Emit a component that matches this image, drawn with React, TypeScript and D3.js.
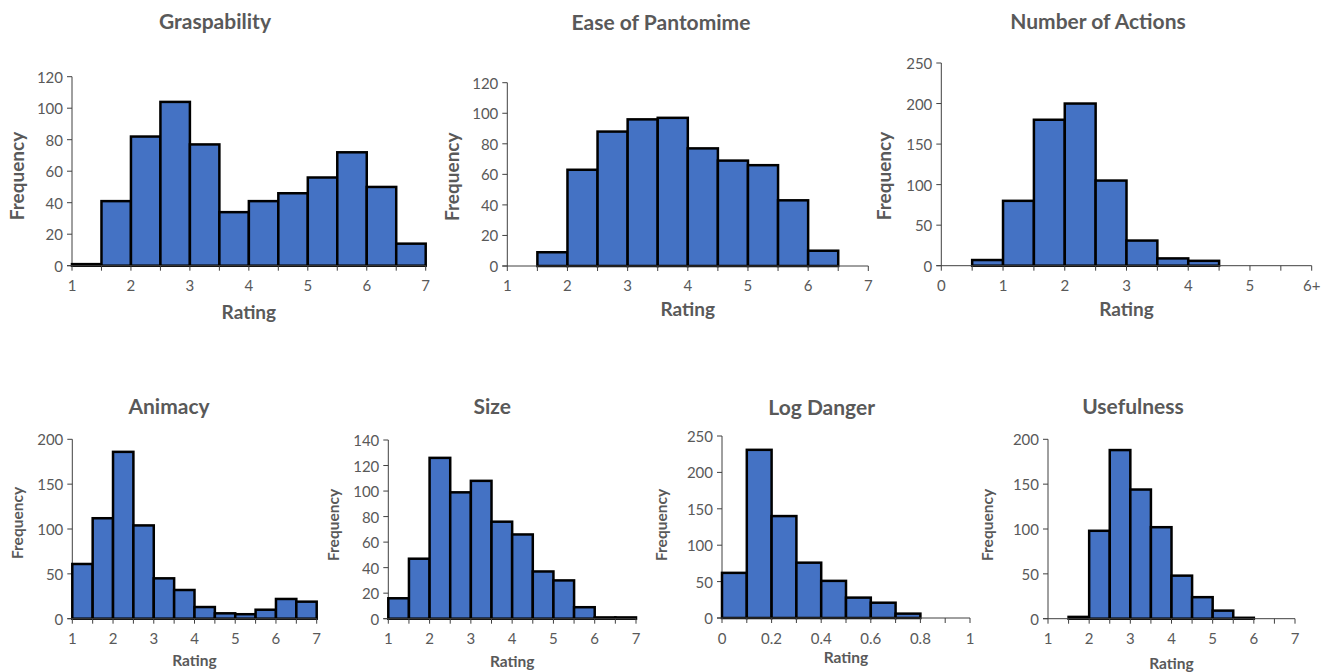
import * as d3 from "d3";
import React, { useEffect, useRef } from "react";

// bin counts (one value per bin, left to right)
const graspCounts = [1, 41, 82, 104, 77, 34, 41, 46, 56, 72, 50, 14];
const pantoCounts = [0, 9, 63, 88, 96, 97, 77, 69, 66, 43, 10, 0];
const actionCounts = [0, 7, 80, 180, 200, 105, 31, 9, 6, 0, 0, 0];
const animacyCounts = [61, 112, 186, 104, 45, 32, 13, 6, 5, 10, 22, 19];
const sizeCounts = [16, 47, 126, 99, 108, 76, 66, 37, 30, 9, 1, 1];
const dangerCounts = [62, 231, 140, 76, 51, 28, 21, 6, 0, 0];
const usefulCounts = [0, 2, 98, 188, 144, 102, 48, 24, 9, 1, 0, 0];

const ratingLabels = ["1", "2", "3", "4", "5", "6", "7"];
const actionLabels = ["0", "1", "2", "3", "4", "5", "6+"];
const dangerLabels = ["0", "0.2", "0.4", "0.6", "0.8", "1"];

const titles = ["Graspability", "Ease of Pantomime", "Number of Actions", "Animacy", "Size", "Log Danger", "Usefulness"];

const FONT = "Lato, 'Open Sans', sans-serif";
const GREY = "#595959";

// layout of every panel on the page
const panels = [
  { counts: graspCounts, labels: ratingLabels, lo: 1, hi: 7, bin: 0.5, step: 1, yMax: 120, yStep: 20,
    x0: 72, x1: 425.7, y0: 76.7, y1: 265.7, tx: 215, ty: 20, tickY: 285, ratY: 311, fx: 16, fy: 176, big: true },
  { counts: pantoCounts, labels: ratingLabels, lo: 1, hi: 7, bin: 0.5, step: 1, yMax: 120, yStep: 20,
    x0: 507.3, x1: 868.3, y0: 82.7, y1: 266, tx: 661, ty: 21, tickY: 285, ratY: 308.5, fx: 451.7, fy: 176.7, big: true },
  { counts: actionCounts, labels: actionLabels, lo: 0, hi: 6, bin: 0.5, step: 1, yMax: 250, yStep: 50,
    x0: 941.3, x1: 1311.7, y0: 63, y1: 265.7, tx: 1098, ty: 20, tickY: 285, ratY: 308.5, fx: 883.3, fy: 176, big: true },
  { counts: animacyCounts, labels: ratingLabels, lo: 1, hi: 7, bin: 0.5, step: 1, yMax: 200, yStep: 50,
    x0: 72.3, x1: 316.7, y0: 439.3, y1: 618.7, tx: 169, ty: 405.7, tickY: 638.3, ratY: 660, fx: 17, fy: 523, big: false },
  { counts: sizeCounts, labels: ratingLabels, lo: 1, hi: 7, bin: 0.5, step: 1, yMax: 140, yStep: 20,
    x0: 388.3, x1: 636, y0: 440, y1: 618.7, tx: 492.3, ty: 405, tickY: 638.3, ratY: 660.7, fx: 332.7, fy: 525, big: false },
  { counts: dangerCounts, labels: dangerLabels, lo: 0, hi: 1, bin: 0.1, step: 0.2, yMax: 250, yStep: 50,
    x0: 722, x1: 970, y0: 436, y1: 618, tx: 821.7, ty: 406.7, tickY: 638.3, ratY: 657, fx: 660.7, fy: 525, big: false },
  { counts: usefulCounts, labels: ratingLabels, lo: 1, hi: 7, bin: 0.5, step: 1, yMax: 200, yStep: 50,
    x0: 1048, x1: 1295, y0: 439.3, y1: 618.7, tx: 1133, ty: 405.7, tickY: 638.3, ratY: 662.7, fx: 986.7, fy: 525, big: false },
];

const App = () => {
  const svgRef = useRef(null);
  const w = 1334;
  const h = 672;

  useEffect(() => {
    const svg = d3.select(svgRef.current);
    svg.selectAll("*").remove();

    panels.forEach((p, k) => {
      const g = svg.append("g");
      const xScale = d3.scaleLinear().domain([p.lo, p.hi]).range([p.x0, p.x1]);
      const yScale = d3.scaleLinear().domain([0, p.yMax]).range([p.y1, p.y0]);

      // title
      g.append("text")
        .attr("x", p.tx).attr("y", p.ty)
        .attr("text-anchor", "middle").attr("dominant-baseline", "central")
        .attr("font-family", FONT).attr("font-weight", "bold")
        .attr("font-size", 21).attr("fill", GREY)
        .text(titles[k]);

      // y axis line + ticks + labels
      g.append("line")
        .attr("x1", p.x0).attr("x2", p.x0).attr("y1", p.y0).attr("y2", p.y1)
        .attr("stroke", "#404040").attr("stroke-width", 1);
      const yTicks = d3.range(0, p.yMax + p.yStep / 2, p.yStep);
      yTicks.forEach((t) => {
        g.append("line")
          .attr("x1", p.x0 - 5).attr("x2", p.x0).attr("y1", yScale(t)).attr("y2", yScale(t))
          .attr("stroke", "#404040");
        g.append("text")
          .attr("x", p.x0 - 9).attr("y", yScale(t))
          .attr("text-anchor", "end").attr("dominant-baseline", "central")
          .attr("font-family", FONT).attr("font-size", 15).attr("fill", GREY)
          .text(t);
      });

      // bars
      const nb = p.counts.length;
      g.selectAll("rect")
        .data(p.counts.map((c, i) => ({ c, i })).filter((d) => d.c > 0))
        .enter()
        .append("rect")
        .attr("x", (d) => xScale(p.lo + d.i * p.bin))
        .attr("y", (d) => yScale(d.c))
        .attr("width", (d) => xScale(p.lo + (d.i + 1) * p.bin) - xScale(p.lo + d.i * p.bin))
        .attr("height", (d) => p.y1 - yScale(d.c))
        .attr("fill", "#4472C4")
        .attr("stroke", "#000")
        .attr("stroke-width", 2.5);

      // x axis line + ticks at each bin edge
      g.append("line")
        .attr("x1", p.x0 - 5).attr("x2", p.x1).attr("y1", p.y1).attr("y2", p.y1)
        .attr("stroke", "#404040").attr("stroke-width", 1);
      d3.range(nb + 1).forEach((i) => {
        const xv = xScale(p.lo + i * p.bin);
        g.append("line")
          .attr("x1", xv).attr("x2", xv).attr("y1", p.y1).attr("y2", p.y1 + 5)
          .attr("stroke", "#404040");
      });
      p.labels.forEach((lab, i) => {
        g.append("text")
          .attr("x", xScale(p.lo + i * p.step)).attr("y", p.tickY)
          .attr("text-anchor", "middle").attr("dominant-baseline", "central")
          .attr("font-family", FONT).attr("font-size", 15).attr("fill", GREY)
          .text(lab);
      });

      // axis titles
      g.append("text")
        .attr("x", (p.x0 + p.x1) / 2).attr("y", p.ratY)
        .attr("text-anchor", "middle").attr("dominant-baseline", "central")
        .attr("font-family", FONT).attr("font-weight", "bold")
        .attr("font-size", p.big ? 19 : 15.5).attr("fill", GREY)
        .text("Rating");
      g.append("text")
        .attr("transform", "translate(" + p.fx + "," + p.fy + ") rotate(-90)")
        .attr("text-anchor", "middle").attr("dominant-baseline", "central")
        .attr("font-family", FONT).attr("font-weight", "bold")
        .attr("font-size", p.big ? 19 : 15.5).attr("fill", GREY)
        .text("Frequency");
    });
  }, []);

  return (
    <svg
      ref={svgRef}
      width={w}
      height={h}
      style={{ position: "absolute", left: 0, top: 0, background: "#fff" }}
    />
  );
};

export default App;
